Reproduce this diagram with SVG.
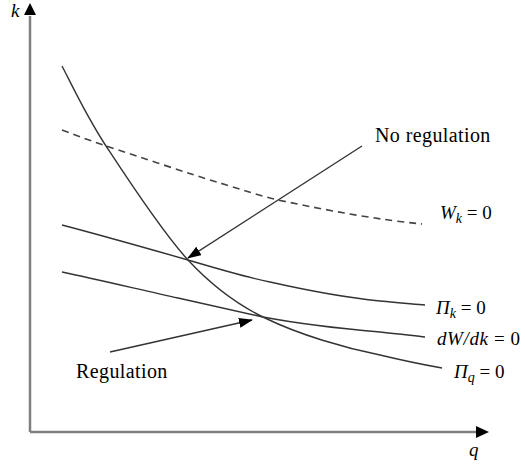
<svg xmlns="http://www.w3.org/2000/svg" width="525" height="470" viewBox="0 0 525 470">
<style>
.axis{stroke:#808080;stroke-width:2.5;fill:none}
.curve{stroke:#333;stroke-width:1.4;fill:none}
.dash{stroke:#444;stroke-width:1.6;fill:none;stroke-dasharray:7,5}
.arr{stroke:#333;stroke-width:1.4;fill:none;marker-end:url(#ah)}
.lbl{font-family:"Liberation Serif",serif;font-size:20px;letter-spacing:0.4px;fill:#000}
.m{font-family:"Liberation Serif",serif;font-size:19px;fill:#000}
.i{font-style:italic}
</style>
<defs>
<marker id="ah" markerUnits="userSpaceOnUse" markerWidth="14" markerHeight="12" refX="13" refY="5" orient="auto">
<path d="M0,0 L14,5 L0,10 z" fill="#000"/>
</marker>
</defs>
<g id="axes">
<path class="axis" d="M30,432 L30,16"/>
<path d="M24,15 L30,3 L36,15 z" fill="#000"/>
<path class="axis" d="M30,432 L477,432"/>
<path d="M476,426 L489,432 L476,438 z" fill="#000"/>
<text class="m i" x="11" y="17" font-size="17">k</text>
<text class="m i" x="469" y="456">q</text>
</g>
<g id="curve-Wk">
<path class="dash" d="M62,130 C80,137 95,142 106,146 C140,157 190,174 220,183 C240,189 260,196 278,200 C330,211 380,220 422,224"/>
<text class="m" x="440" y="219"><tspan class="i">W</tspan><tspan class="i" font-size="14" dy="4">k</tspan><tspan dy="-4"> = 0</tspan></text>
</g>
<g id="curve-Pik">
<path class="curve" d="M62,225 C100,235 160,252 188,260 C215,268 245,277 270,282 C310,291 350,298 380,301 C400,303 415,304 425,305"/>
<text class="m" x="436" y="314"><tspan class="i">Π</tspan><tspan class="i" font-size="14" dy="4">k</tspan><tspan dy="-4"> = 0</tspan></text>
</g>
<g id="curve-dWdk">
<path class="curve" d="M62,272 C100,280 150,292 178,298 C210,305 240,312 263,317 C300,324 345,329 380,332 C400,334 415,336 425,337"/>
<text class="m" x="437" y="345" letter-spacing="0.6"><tspan class="i">dW/dk</tspan> = 0</text>
</g>
<g id="curve-Piq">
<path class="curve" d="M62,66 C69,79 85,114 106,146 C127,178 162,232 188,260 C214,288 240,306 265,318 C300,335 345,348 380,355 C405,361 425,365 442,368"/>
<text class="m" x="454" y="378"><tspan class="i">Π</tspan><tspan class="i" font-size="14" dy="4">q</tspan><tspan dy="-4"> = 0</tspan></text>
</g>
<g id="label-noreg">
<text class="lbl" x="375" y="142">No regulation</text>
</g>
<g id="label-reg">
<text class="lbl" x="76" y="378">Regulation</text>
</g>
<g id="connectors">
<path class="arr" d="M362,146 L188,258"/>
<path class="arr" d="M110,352 L252,320"/>
</g>
</svg>
